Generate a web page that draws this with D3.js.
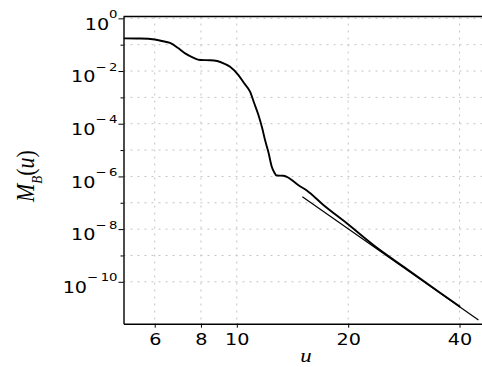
<!DOCTYPE html>
<html>
<head>
<meta charset="UTF-8">
<script src="https://cdn.jsdelivr.net/npm/d3@7"></script>
<style>
body { margin: 0; background: #fff; }
svg { display: block; }
</style>
</head>
<body>
<div id="chart"></div>
<script>
// curve M_B(u)
var uVals = [4.94, 5.48, 6.00, 6.28, 6.60, 6.94, 7.25, 7.62, 7.96, 8.47, 8.85, 9.24,
             9.59, 10.10, 10.46, 10.86, 11.14, 11.44, 11.71, 11.92, 12.17, 12.43, 12.61,
             12.81, 13.36, 13.76, 14.08, 14.65, 15.46, 17.14, 19.83, 23.39, 28.81, 35.44, 40.14];
var mVals = [1.74e-1, 1.71e-1, 1.57e-1, 1.38e-1, 1.16e-1, 7.46e-2, 4.70e-2, 3.25e-2, 2.61e-2,
             2.57e-2, 2.40e-2, 1.93e-2, 1.46e-2, 7.05e-3, 3.51e-3, 1.64e-3, 6.11e-4, 2.14e-4,
             6.87e-5, 2.40e-5, 8.43e-6, 2.33e-6, 1.47e-6, 1.08e-6, 1.06e-6, 9.08e-7, 7.29e-7,
             4.72e-7, 2.92e-7, 8.22e-8, 1.66e-8, 2.49e-9, 3.06e-10, 3.86e-11, 1.12e-11];

// asymptote (thin straight line)
var lineU = [15.04, 45.0];
var lineM = [1.70e-7, 3.55e-12];

var xTicks = [6, 8, 10, 20, 40];
var yMajorExp = [0, -2, -4, -6, -8, -10];
var yMinorExp = [-1, -3, -5, -7, -9];
var xDomain = [4.94, 46.0];
var yDomain = [1.175, 2.57e-12];

var w = 482, h = 367,
    mLeft = 123.5, mTop = 16.5, mBottom = 323.7, mRight = 482,
    stretch = 1.2,
    tickFont = "'DejaVu Sans', sans-serif";

var svg = d3.select("#chart").append("svg")
    .attr("width", w)
    .attr("height", h);

var x = d3.scaleLog().domain(xDomain).range([mLeft, mRight]);
var y = d3.scaleLog().domain(yDomain).range([mTop, mBottom]);

// grid
var grid = svg.append("g")
    .attr("stroke", "#c4c4c4")
    .attr("stroke-width", 1)
    .attr("stroke-dasharray", "2,5");

grid.selectAll("line.gx")
    .data(xTicks)
    .enter().append("line")
    .attr("x1", d => x(d)).attr("x2", d => x(d))
    .attr("y1", mTop).attr("y2", mBottom);

grid.selectAll("line.gy")
    .data(yMajorExp.concat(yMinorExp))
    .enter().append("line")
    .attr("x1", mLeft).attr("x2", mRight)
    .attr("y1", d => y(Math.pow(10, d))).attr("y2", d => y(Math.pow(10, d)));

// curves
svg.append("clipPath").attr("id", "clip")
  .append("rect")
    .attr("x", mLeft).attr("y", mTop)
    .attr("width", mRight - mLeft).attr("height", mBottom - mTop);

var line = d3.line()
    .x(d => x(d[0]))
    .y(d => y(d[1]))
    .curve(d3.curveMonotoneX);

svg.append("path")
    .datum(d3.zip(lineU, lineM))
    .attr("clip-path", "url(#clip)")
    .attr("fill", "none")
    .attr("stroke", "#000")
    .attr("stroke-width", 1.2)
    .attr("d", line);

svg.append("path")
    .datum(d3.zip(uVals, mVals))
    .attr("clip-path", "url(#clip)")
    .attr("fill", "none")
    .attr("stroke", "#000")
    .attr("stroke-width", 1.9)
    .attr("stroke-linejoin", "round")
    .attr("d", line);

// axes
var xAxis = svg.append("g")
    .attr("transform", `translate(0,${mBottom})`)
    .call(d3.axisBottom(x).tickValues(xTicks).tickSize(4).tickSizeOuter(0).tickFormat(d3.format("d")));

xAxis.selectAll("text")
    .attr("y", 0).attr("dy", null)
    .attr("transform", "translate(0,21.3) scale(" + stretch + ",1)")
    .attr("font-family", tickFont)
    .attr("font-size", 16)
    .attr("fill", "#000");

svg.append("g")
    .attr("transform", `translate(${mLeft},0)`)
    .call(d3.axisLeft(y).tickValues(yMinorExp.map(e => Math.pow(10, e))).tickSize(3).tickSizeOuter(0).tickFormat(""))
    .select(".domain").remove();

var yAxis = svg.append("g")
    .attr("transform", `translate(${mLeft},0)`)
    .call(d3.axisLeft(y).tickValues(yMajorExp.map(e => Math.pow(10, e))).tickSize(5).tickSizeOuter(0));

yAxis.selectAll(".tick text").each(function(d) {
    var e = Math.round(Math.log10(d));
    var t = d3.select(this)
        .text(null)
        .attr("x", 0).attr("y", 10.7).attr("dy", null)
        .attr("text-anchor", "end")
        .attr("font-family", tickFont)
        .attr("fill", "#000")
        .attr("transform", "translate(-6,0) scale(" + stretch + ",1)");
    t.append("tspan").attr("font-size", 16).text("10");
    t.append("tspan").attr("font-size", 11).attr("dy", -11.7)
        .text(e === 0 ? "0" : "\u2212\u2009" + (-e));
});

svg.selectAll(".domain").attr("stroke-width", 1.4);

// top frame line
svg.append("line")
    .attr("x1", mLeft).attr("x2", mRight)
    .attr("y1", mTop).attr("y2", mTop)
    .attr("stroke", "#000")
    .attr("stroke-width", 1.4);

// axis titles
svg.append("text")
    .attr("transform", "translate(306,362) scale(" + stretch + ",1)")
    .attr("text-anchor", "middle")
    .attr("font-family", "'Liberation Serif', serif")
    .attr("font-style", "italic")
    .attr("font-size", 19)
    .text("u");

var yt = svg.append("text")
    .attr("transform", "translate(33.5,202) rotate(-90) scale(1,1.1)")
    .attr("font-family", "'Liberation Serif', serif")
    .attr("font-style", "italic")
    .attr("font-size", 22);
yt.append("tspan").text("M");
yt.append("tspan").attr("font-size", 13).attr("dy", 8).text("B");
yt.append("tspan").attr("dy", -8).attr("font-style", "normal").text("(");
yt.append("tspan").text("u");
yt.append("tspan").attr("font-style", "normal").text(")");
</script>
</body>
</html>
